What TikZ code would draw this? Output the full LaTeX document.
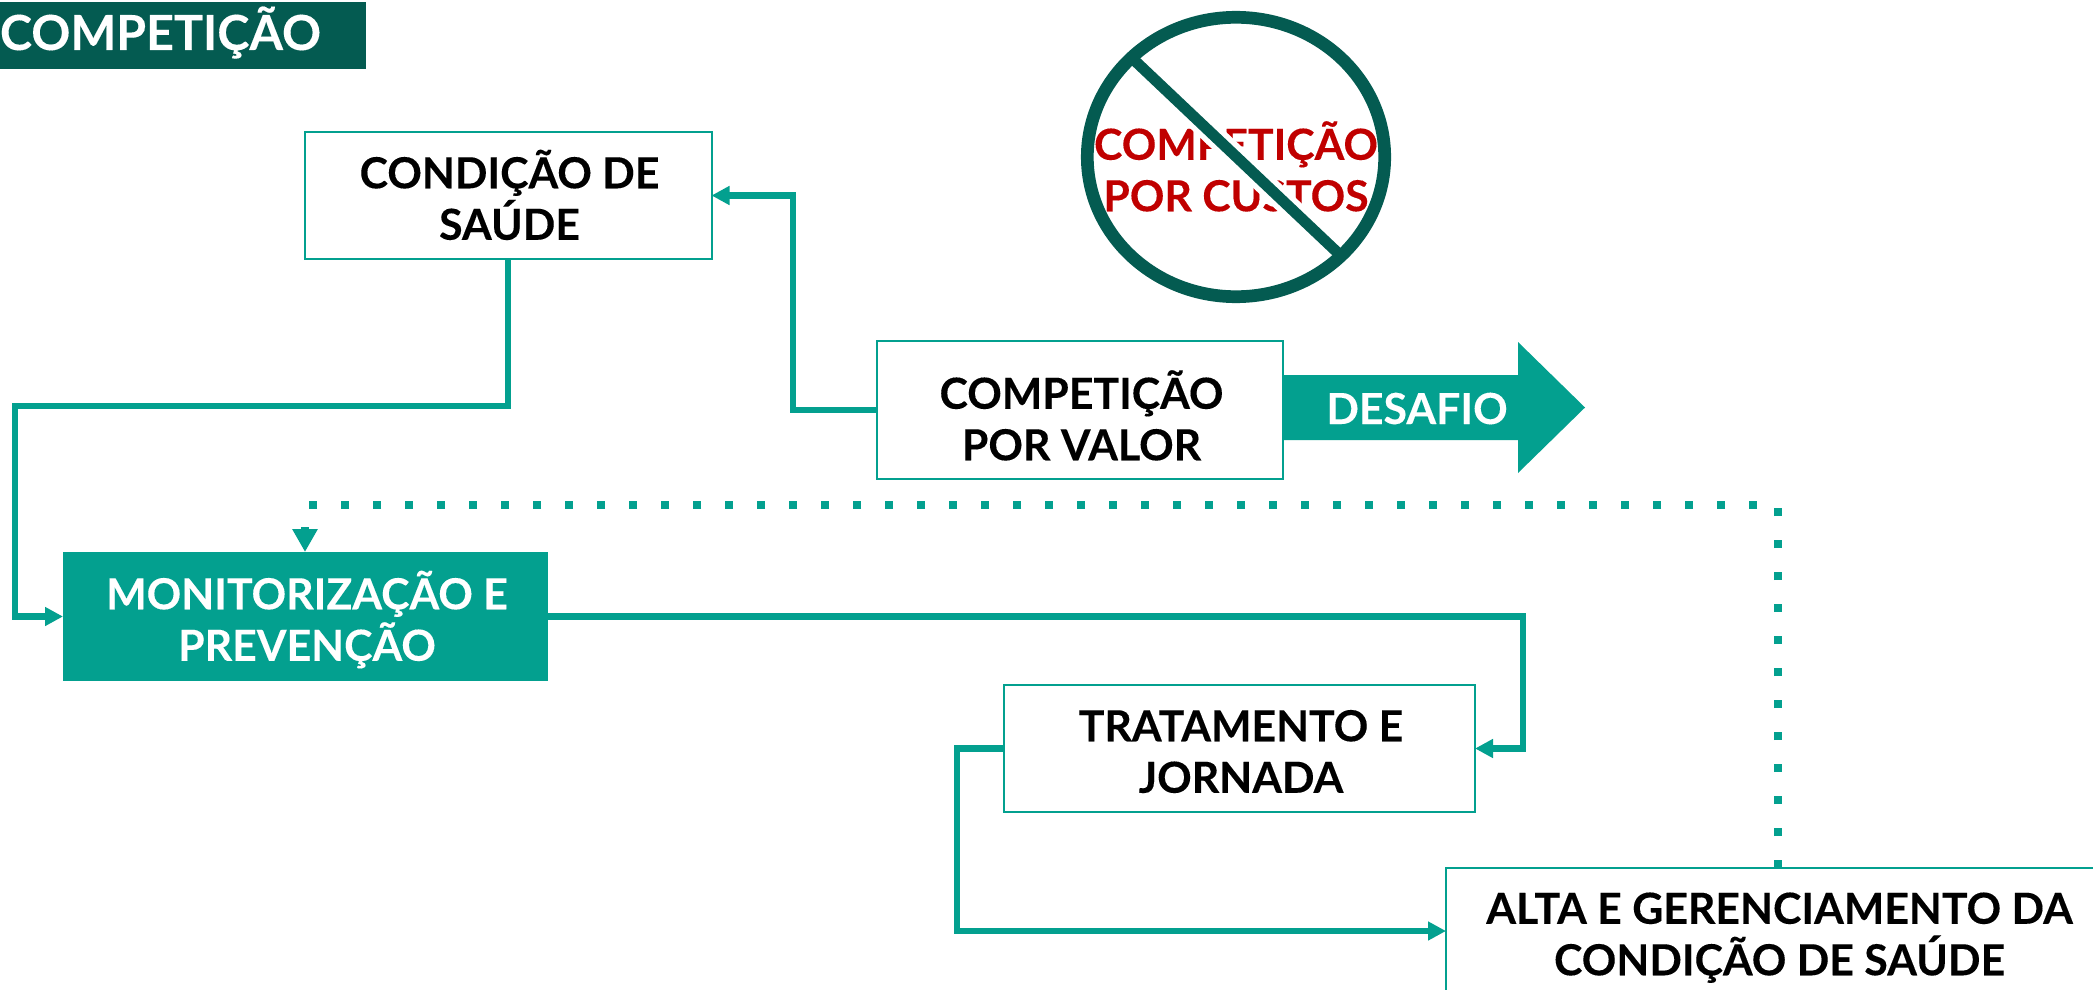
\documentclass[tikz,border=0pt]{standalone}
\usepackage{fontspec}
\setmainfont{Lato}[BoldFont={Lato Bold},BoldFeatures={FakeBold=0.2}]
\usetikzlibrary{arrows.meta}
\definecolor{teal1}{HTML}{03A08F}
\definecolor{dark1}{HTML}{045B51}
\definecolor{red1}{HTML}{C00000}
\newcommand\lin[2][44pt]{\rule[\dimexpr#1-51pt\relax]{0pt}{51pt}\smash{#2}}
\newcommand\linb[2][44pt]{\hspace*{3pt}\lin[#1]{#2}}
\newcommand\fs{\fontsize{42.8pt}{51.5pt}\selectfont\bfseries}
\tikzset{
  x=1pt,y=-1pt,
  boxw/.style={draw=teal1,line width=2pt,fill=white,inner sep=0pt,outer sep=0pt,align=center,text=black,font=\fs},
  boxf/.style={fill=teal1,inner sep=0pt,outer sep=0pt,align=center,text=white,font=\fs},
  conn/.style={draw=teal1,line width=6.3pt,-{Triangle[length=18pt,width=18pt]},miter limit=10},
  dotline/.style={draw=teal1,line width=8pt,dash pattern=on 8pt off 24pt},
  dothead/.style={draw=teal1,line width=8pt,-{Triangle[length=23pt,width=24pt]}},
}
\begin{document}
\begin{tikzpicture}
\clip (0,0) rectangle (2093,990);
\fill[white] (0,0) rectangle (2093,990);
% header
\node[fill=dark1,inner sep=0pt,outer sep=0pt,minimum width=366pt,minimum height=67pt,text=white,font=\fontsize{48.4pt}{51pt}\selectfont\bfseries] (head) at (183,35.5) {\makebox[366pt][l]{\lin[40pt]{COMPETIÇÃO}}};
% no-symbol
\node[text=red1,align=center,font=\fs,inner sep=0pt] (custos) at (1236,167) {\lin{COMPETIÇÃO}\\\lin{POR CUSTOS}};
\draw[white,line width=22pt] (1133,59) -- (1339,254);
\draw[dark1,line width=11pt] (1133,59) -- (1339,254);
\draw[dark1,line width=12.7pt] (1236,157) ellipse [x radius=148.7,y radius=139.7];
% challenge arrow
\fill[teal1] (1283,375) -- (1518,375) -- (1518,342) -- (1585,407.5) -- (1518,473) -- (1518,440) -- (1283,440) -- cycle;
\node[text=white,font=\fs,inner sep=0pt] (desafio) at (1417,407.5) {\lin[42pt]{DESAFIO}};
% boxes
\node[boxw,minimum width=407pt,minimum height=127pt] (cond) at (508,195.5) {\linb{CONDIÇÃO DE}\\\linb{SAÚDE}};
\node[boxw,minimum width=406pt,minimum height=138pt] (comp) at (1080,410) {\linb[50pt]{COMPETIÇÃO}\\\linb[50pt]{POR VALOR}};
\node[boxf,minimum width=485pt,minimum height=129pt] (mon) at (305.5,616.5) {\linb{MONITORIZAÇÃO E}\\\linb{PREVENÇÃO}};
\node[boxw,minimum width=471pt,minimum height=127pt] (trat) at (1239.5,748.5) {\linb{TRATAMENTO E}\\\linb{JORNADA}};
\node[boxw,minimum width=664pt,minimum height=126pt] (alt) at (1778,931) {\linb{ALTA E GERENCIAMENTO DA}\\\linb{CONDIÇÃO DE SAÚDE}};
% routing points
\coordinate (c1) at (15,406);
\coordinate (c2) at (793,300);
\coordinate (c3) at (1523,680);
\coordinate (c4) at (957,840);
\coordinate (d1) at (1778,505);
\coordinate (d2) at (305,505);
\coordinate (d3) at (305,527);
% connectors
\draw[conn] (cond.south) |- (c1) |- (mon.west);
\draw[conn] (comp.west) -| (c2) |- (cond.east);
\draw[conn] (mon.east) -| (c3) |- (trat.east);
\draw[conn] (trat.west) -| (c4) |- (alt.west);
\draw[dotline] (d1 |- alt.north) -- (d1) -- (d2);
\draw[dothead] (d3) -- (d3 |- mon.north);
\end{tikzpicture}
\end{document}
